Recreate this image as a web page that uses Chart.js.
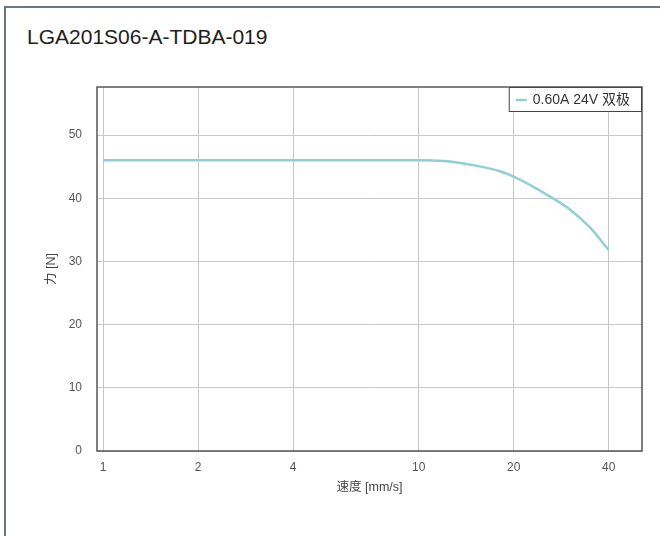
<!DOCTYPE html>
<html>
<head>
<meta charset="utf-8">
<script src="https://cdn.jsdelivr.net/npm/chart.js@4"></script>
<style>
  body {
    margin: 0;
    width: 660px;
    height: 536px;
    overflow: hidden;
    background: #fff;
    font-family: "Liberation Sans", "Noto Sans CJK SC", sans-serif;
  }
  #frame {
    position: absolute;
    left: 4px;
    top: 6px;
    width: 700px;
    height: 600px;
    border: 2px solid #6b7480;
  }
  #title {
    position: absolute;
    left: 27px;
    top: 25px;
    font-size: 21px;
    color: #1e1e1e;
  }
  canvas {
    position: absolute;
    left: 0;
    top: 0;
  }
</style>
</head>
<body>
<div id="frame"></div>
<div id="title">LGA201S06-A-TDBA-019</div>
<canvas id="chart" width="660" height="536"></canvas>
<script>
// speed [mm/s] vs force [N]
const speeds = [1, 2, 4, 10, 12, 15, 18, 20, 25, 30, 35, 40];
const force = [46, 46, 46, 46, 45.9, 45.2, 44.3, 43.4, 40.8, 38.3, 35.3, 31.8];
const xTicks = [1, 2, 4, 10, 20, 40];
const yTicks = [0, 10, 20, 30, 40, 50];
const seriesLabel = "0.60A 24V 双极";
const xTitle = "速度 [mm/s]";
const yTitle = "力 [N]";

const FONT = '"Liberation Sans", "Noto Sans CJK SC", sans-serif';
const lineColor = "#8ecfd8";

// frame round the plot, legend box, axis titles
const decorPlugin = {
  id: "decor",
  afterDraw(chart) {
    const { ctx, chartArea: a } = chart;
    ctx.save();

    ctx.strokeStyle = "#555";
    ctx.lineWidth = 1.5;
    ctx.strokeRect(a.left, a.top, a.right - a.left, a.bottom - a.top);

    // legend in the top right corner
    const ds = chart.data.datasets[0];
    ctx.font = "14px " + FONT;
    const tw = ctx.measureText(ds.label).width;
    const boxW = tw + 36;
    const boxH = 25;
    const bx = a.right - boxW;
    const by = a.top;
    ctx.fillStyle = "#fff";
    ctx.fillRect(bx, by, boxW, boxH);
    ctx.strokeStyle = "#444";
    ctx.lineWidth = 1;
    ctx.strokeRect(bx + 0.5, by + 0.5, boxW - 1, boxH - 1);
    ctx.strokeStyle = ds.borderColor;
    ctx.lineWidth = 2.5;
    ctx.beginPath();
    ctx.moveTo(bx + 7, by + 13);
    ctx.lineTo(bx + 18, by + 13);
    ctx.stroke();
    ctx.fillStyle = "#333";
    ctx.textBaseline = "middle";
    ctx.textAlign = "left";
    ctx.fillText(ds.label, bx + 24, by + 13.5);

    // axis titles
    ctx.font = "12.5px " + FONT;
    ctx.fillStyle = "#444";
    ctx.textAlign = "center";
    ctx.fillText(xTitle, (a.left + a.right) / 2, 488);
    ctx.translate(52, (a.top + a.bottom) / 2);
    ctx.rotate(-Math.PI / 2);
    ctx.fillText(yTitle, 0, 0);

    ctx.restore();
  },
};

const tickFont = { family: FONT, size: 12 };

new Chart(document.getElementById("chart"), {
  type: "line",
  data: {
    labels: speeds,
    datasets: [
      {
        label: seriesLabel,
        data: speeds.map((s, i) => ({ x: s, y: force[i] })),
        borderColor: lineColor,
        borderWidth: 2.5,
        pointRadius: 0,
        fill: false,
        cubicInterpolationMode: "monotone",
      },
    ],
  },
  options: {
    responsive: false,
    animation: false,
    layout: {
      padding: { left: 45, top: 87, right: 18, bottom: 0 },
    },
    plugins: {
      legend: { display: false },
      tooltip: { enabled: false },
    },
    scales: {
      x: {
        type: "logarithmic",
        min: 0.957,
        max: 51,
        afterBuildTicks: (s) => {
          s.ticks = xTicks.map((v) => ({ value: v }));
        },
        afterFit: (s) => {
          s.height = 85;
        },
        ticks: {
          callback: (v) => String(v),
          autoSkip: false,
          maxRotation: 0,
          padding: 9,
          color: "#555",
          font: tickFont,
        },
        grid: { color: "#c8c8c8", drawTicks: false },
        border: { display: false },
      },
      y: {
        min: 0,
        max: 57.6,
        afterBuildTicks: (s) => {
          s.ticks = yTicks.map((v) => ({ value: v }));
        },
        afterFit: (s) => {
          s.width = 52;
        },
        ticks: {
          padding: 15,
          color: "#555",
          font: tickFont,
        },
        grid: { color: "#c8c8c8", drawTicks: false },
        border: { display: false },
      },
    },
  },
  plugins: [decorPlugin],
});
</script>
</body>
</html>
